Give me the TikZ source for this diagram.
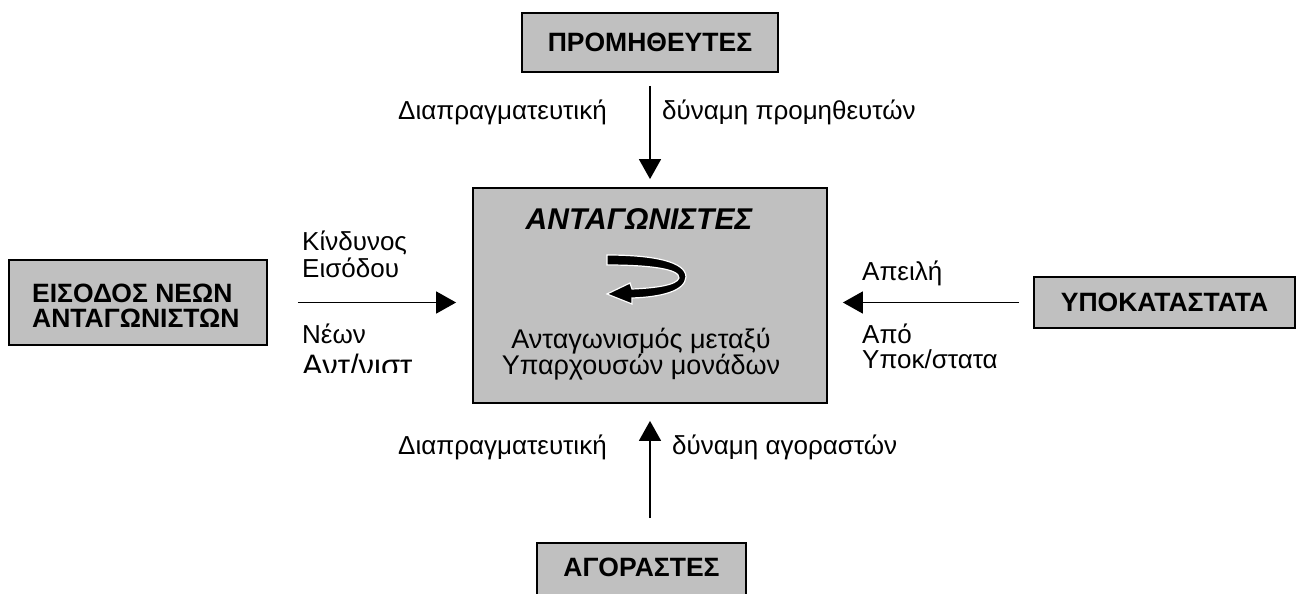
\documentclass[tikz,border=0pt]{standalone}
\usepackage{fontspec}
\setmainfont{Liberation Sans}
\usetikzlibrary{arrows.meta}
\definecolor{boxgray}{HTML}{C0C0C0}
% two stacked lines at a fixed baseline distance; the box baseline is the first line's
\newcommand\centrepair[3]{\vtop{\baselineskip=#1\lineskiplimit=-\maxdimen\lineskip=0pt
  \halign{\hfil##\hfil\cr#2\cr#3\cr}}}
\newcommand\leftpair[3]{\vtop{\baselineskip=#1\lineskiplimit=-\maxdimen\lineskip=0pt
  \halign{##\hfil\cr#2\cr#3\cr}}}
\begin{document}
\begin{tikzpicture}[x=1pt,y=-1pt,
  box/.style={draw=black, line width=1.8pt, fill=boxgray, inner sep=0pt,
              font=\bfseries\fontsize{26.5}{26}\selectfont},
  boxtext/.style={inner sep=0pt, font=\bfseries\fontsize{26.5}{26}\selectfont},
  lbl/.style={inner sep=0pt, anchor=base west, font=\fontsize{26}{27}\selectfont},
  ctrlbl/.style={inner sep=0pt, anchor=base, font=\fontsize{27}{28}\selectfont},
  arr/.style={line width=1.6pt, -{Triangle[length=20pt,width=22pt]}}]
\useasboundingbox (0,0) rectangle (1296,594);

% the five forces
\node[box, minimum width=256pt, minimum height=59pt] (sup) at (650,42.5) {ΠΡΟΜΗΘΕΥΤΕΣ};
\node[box, minimum width=354pt, minimum height=215pt] (ctr) at (650,295.5) {};
\node[box, minimum width=258pt, minimum height=85pt] (ent) at (138,302.5) {};
\node[boxtext, anchor=base west] (enttxt) at (32,302)
  {\leftpair{25pt}{ΕΙΣΟΔΟΣ ΝΕΩΝ}{ΑΝΤΑΓΩΝΙΣΤΩΝ}};
\node[box, minimum width=261pt, minimum height=51pt] (sub) at (1164.5,302.5) {ΥΠΟΚΑΤΑΣΤΑΤΑ};
\node[box, minimum width=209pt, minimum height=70pt, anchor=north] (buy) at (641.5,542) {};
\node[boxtext] (buytxt) at (641.5,567) {ΑΓΟΡΑΣΤΕΣ};

% contents of the rivalry box
\node[inner sep=0pt, anchor=base, font=\bfseries\itshape\fontsize{30}{30}\selectfont]
  (ctrtitle) at (639,229) {ΑΝΤΑΓΩΝΙΣΤΕΣ};
\node[ctrlbl] (ctrtxt) at (641,348)
  {\centrepair{26pt}{Ανταγωνισμός μεταξύ}{Υπαρχουσών μονάδων}};

% rotating ribbon arrow
\filldraw[fill=black, draw=white, line width=1.2pt]
  (607,255) .. controls (655,255) and (686,262) .. (686,277)
  .. controls (685,291) and (662,297) .. (632,298)
  -- (632,304) -- (607,294) -- (630,283) -- (632,289)
  .. controls (656,288) and (677,285) .. (679,278)
  .. controls (680,269) and (650,265) .. (607,265) -- cycle;

% connectors
\draw[arr, shorten <=13pt, shorten >=8pt] (sup.south) -- (ctr.north);
\draw[arr, shorten <=30pt, shorten >=16pt] (ent.east) -- (ent.east -| ctr.west);
\draw[arr, shorten <=14pt, shorten >=15pt] (sub.west) -- (sub.west -| ctr.east);
\draw[arr, shorten <=24pt, shorten >=17pt] (buy.north -| ctr.south) -- (ctr.south);

% labels on the connectors
\node[lbl] (t1) at (398,119) {Διαπραγματευτική};
\node[lbl] (t2) at (662,119) {δύναμη προμηθευτών};
\node[lbl] (b1) at (398,454) {Διαπραγματευτική};
\node[lbl] (b2) at (672,454) {δύναμη αγοραστών};
\node[lbl] (l1) at (302,250) {\leftpair{27pt}{Κίνδυνος}{Εισόδου}};
\node[lbl] (l3) at (302,343) {Νέων};
\begin{scope}
  \clip (280,346) rectangle (470,372.5);
  \node[lbl, font=\fontsize{31}{34}\selectfont] (l4) at (302,376) {Αντ/νιστ};
\end{scope}
\node[lbl] (r1) at (862,280) {Απειλή};
\node[lbl] (r2) at (862,343) {\leftpair{25pt}{Από}{Υποκ/στατα}};
\end{tikzpicture}
\end{document}
